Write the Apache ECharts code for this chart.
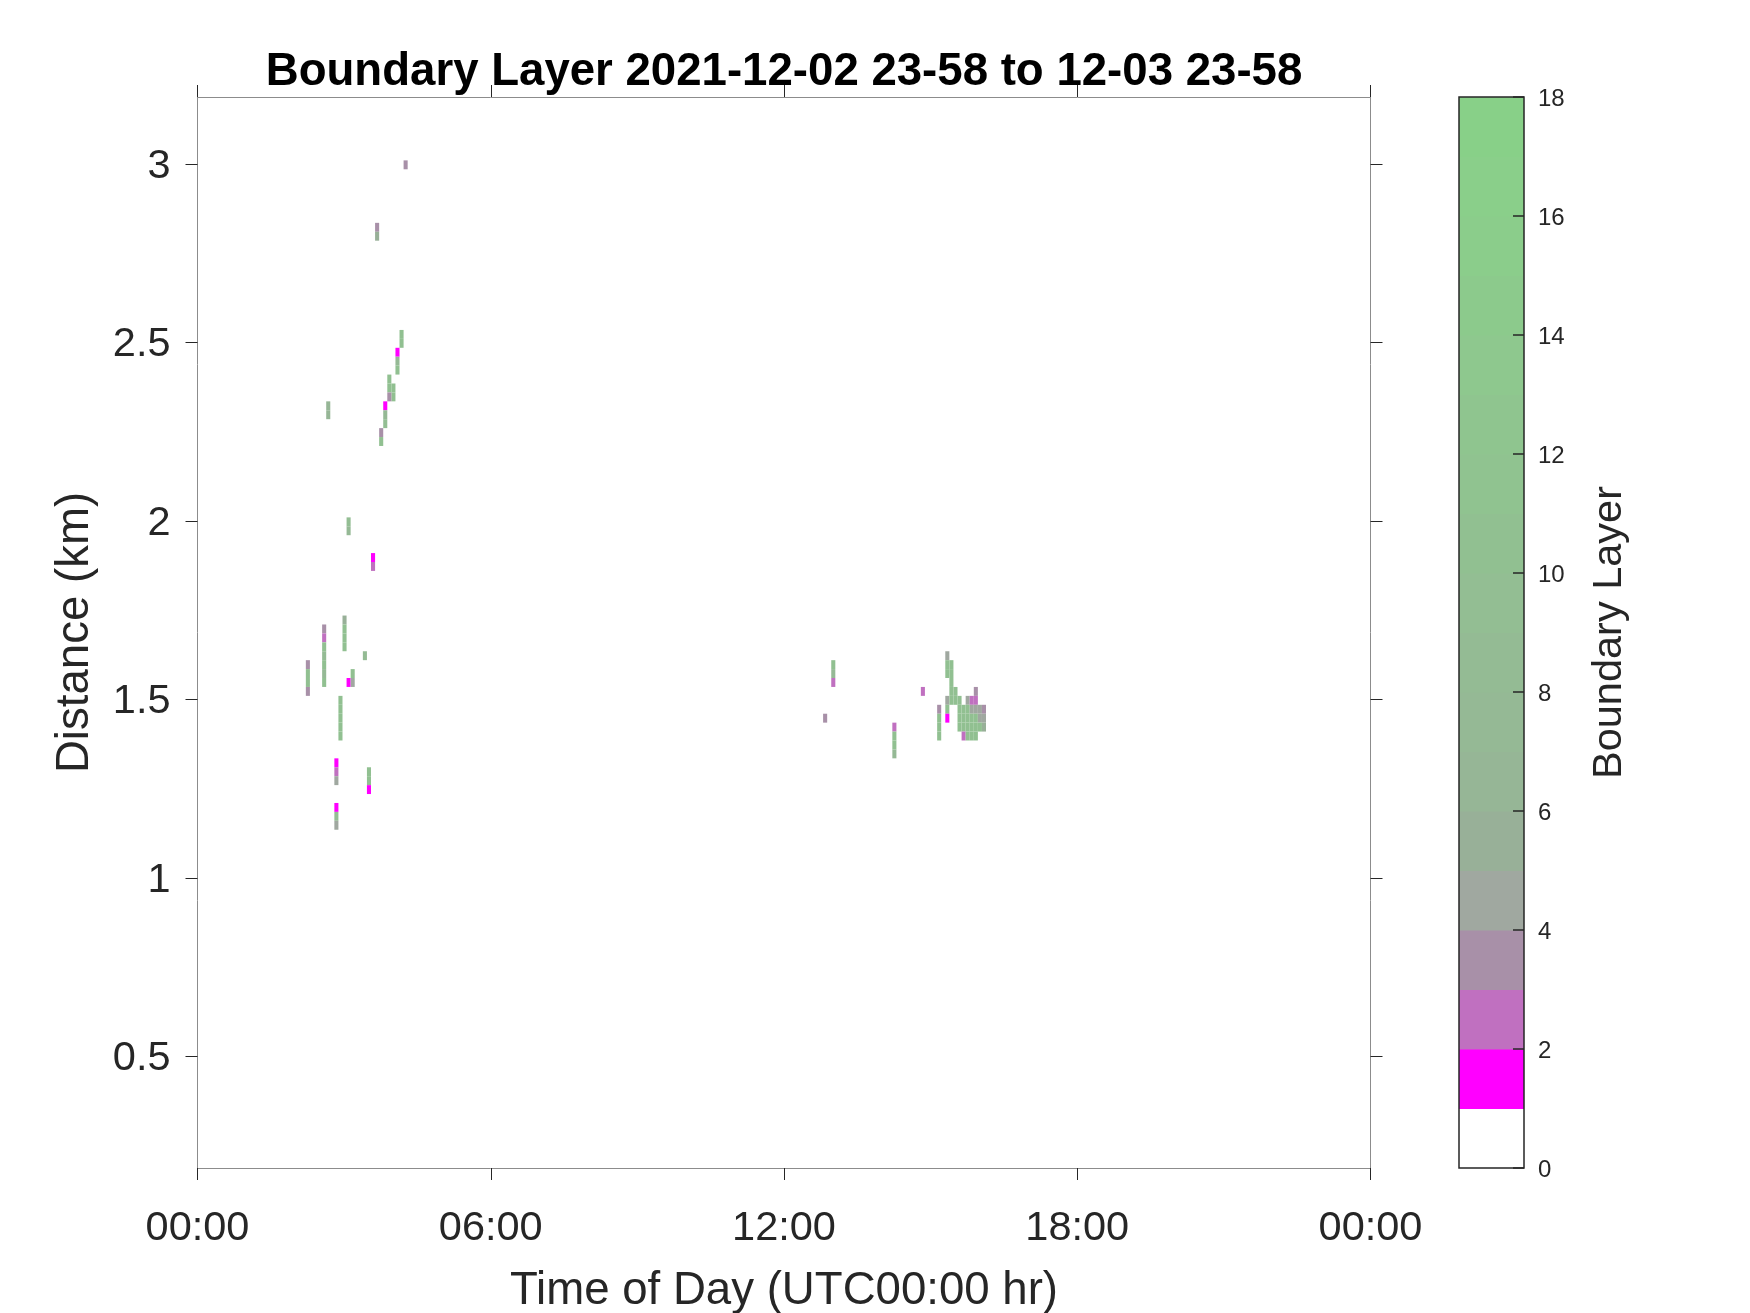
<!DOCTYPE html>
<html><head><meta charset="utf-8">
<script src="https://cdn.jsdelivr.net/npm/echarts@6/dist/echarts.min.js"></script>
<style>html,body{margin:0;padding:0;background:#fff}#c{width:1750px;height:1313px}</style>
</head><body><div id="c"></div>
<script>
// ---------------- data ----------------
const titleText = 'Boundary Layer 2021-12-02 23-58 to 12-03 23-58';
const xAxisTitle = 'Time of Day (UTC00:00 hr)';
const yAxisTitle = 'Distance (km)';
const colorbarTitle = 'Boundary Layer';

const xTickHours = [0, 6, 12, 18, 24];
const xTickLabels = ['00:00', '06:00', '12:00', '18:00', '00:00'];
const yTickValues = [0.5, 1, 1.5, 2, 2.5, 3];
const colorbarTicks = [0, 2, 4, 6, 8, 10, 12, 14, 16, 18];

// colour of each 1-unit level of the colour scale (0-1, 1-2, ... 17-18)
const levelColors = ['#ffffff', '#ff00ff', '#c070c0', '#a890a8', '#a0a8a0', '#98b098',
  '#96b696', '#95b995', '#94bb94', '#93be93', '#91c091', '#90c390',
  '#8fc58f', '#8ec88e', '#8cca8c', '#8bcd8b', '#8acf8a', '#88d088'];

// each profile column: start minute (of the 5-minute bin), gate bottoms (km) and values
const columnStartMin = [253, 218, 158, 248, 243, 238, 233, 228, 223, 183, 213, 133, 153, 178, 203, 188, 173, 168, 208,
  768, 778, 853, 888, 908, 918, 923, 928, 933, 938, 943, 948, 953, 958, 963];
const columnGateKm = [
  [2.985], [2.81, 2.785], [2.31, 2.285], [2.51, 2.485], [2.46, 2.435, 2.41], [2.36, 2.335],
  [2.385, 2.36, 2.335], [2.31, 2.285, 2.26], [2.235, 2.21], [1.985, 1.96, 1.535], [1.885, 1.86],
  [1.585, 1.56, 1.535, 1.51], [1.685, 1.66, 1.635, 1.61, 1.585, 1.56, 1.535], [1.71, 1.685, 1.66, 1.635],
  [1.61], [1.56, 1.535], [1.485, 1.46, 1.435, 1.41, 1.385], [1.31, 1.285, 1.26, 1.185, 1.16, 1.135],
  [1.285, 1.26, 1.235],
  [1.435], [1.585, 1.56, 1.535], [1.41, 1.385, 1.36, 1.335], [1.51], [1.46, 1.435, 1.41, 1.385],
  [1.61, 1.585, 1.56, 1.485, 1.46, 1.435], [1.585, 1.56, 1.535, 1.51, 1.485], [1.51, 1.485],
  [1.485, 1.46, 1.435, 1.41], [1.46, 1.435, 1.41, 1.385], [1.485, 1.46, 1.435, 1.41, 1.385],
  [1.485, 1.46, 1.435, 1.41, 1.385], [1.51, 1.485, 1.46, 1.435, 1.41, 1.385], [1.46, 1.435, 1.41],
  [1.46, 1.435, 1.41]];
const columnValues = [
  [3.5], [3.5, 5.5], [6.5, 6.5], [10, 10], [1.5, 7, 10], [10, 10],
  [10, 10, 3.5], [1.5, 7, 9], [3.5, 10], [9, 7, 1.5], [1.5, 2.5],
  [3.5, 10, 10, 3.5], [3.5, 2.5, 10, 8, 10, 7, 10], [5.5, 10, 10, 10],
  [8], [10, 4.5], [10, 10, 10, 10, 10], [1.5, 2.5, 4.5, 1.5, 9, 4.5],
  [10, 10, 1.5],
  [3.5], [10, 7, 2.5], [2.5, 10, 10, 7], [2.5], [3.5, 10, 10, 10],
  [4.5, 10, 10, 4.5, 10, 1.5], [10, 10, 10, 10, 10], [10, 10],
  [10, 10, 10, 10], [10, 10, 10, 2.5], [4.5, 10, 10, 10, 10],
  [2.5, 4.5, 10, 10, 10], [3.5, 2.5, 4.5, 10, 10, 10], [4.5, 4.5, 10],
  [3.5, 4.5, 5.5]];

// ---------------- build ----------------
const BIN_MIN = 5;       // time bin length (minutes)
const GATE_KM = 0.025;   // range gate (km)
const cells = [];
columnStartMin.forEach((m, i) => {
  columnGateKm[i].forEach((km, j) => cells.push([m / 60, km, columnValues[i][j]]));
});
function colorFor(v) {
  const idx = Math.max(0, Math.min(levelColors.length - 1, Math.floor(v)));
  return levelColors[idx];
}
const levels = levelColors.map((c, i) => [0, i]);

const FONT = "'Liberation Sans', Arial, Helvetica, sans-serif";
const TXT = '#262626';
const BOX = '#8c8c8c';
const TICK = '#262626';

const chart = echarts.init(document.getElementById('c'), null, {renderer: 'canvas'});
const axisBase = {
  type: 'value', splitLine: {show: false},
  axisLine: {show: true, onZero: false, lineStyle: {color: BOX, width: 1}},
  axisTick: {show: true, inside: false, length: 12, lineStyle: {color: TICK, width: 1}}
};
chart.setOption({
  animation: false,
  backgroundColor: '#ffffff',
  grid: [
    {left: 197.5, right: 379.5, top: 97, bottom: 145, containLabel: false, outerBoundsMode: 'none'},
    {left: 1459, width: 65, top: 97, bottom: 145, containLabel: false, outerBoundsMode: 'none'}
  ],
  xAxis: [
    Object.assign({}, axisBase, {
      gridIndex: 0, position: 'bottom', min: 0, max: 24, interval: 6,
      axisLabel: {show: true, fontSize: 41.5, fontFamily: FONT, color: TXT, margin: 39.5,
        showMinLabel: true, showMaxLabel: true,
        formatter: v => xTickLabels[xTickHours.indexOf(v)]},
      name: xAxisTitle, nameLocation: 'middle', nameGap: 100,
      nameTextStyle: {fontSize: 45.6, fontFamily: FONT, color: TXT}
    }),
    Object.assign({}, axisBase, {
      gridIndex: 0, position: 'top', min: 0, max: 24, interval: 6, axisLabel: {show: false}
    }),
    {type: 'value', gridIndex: 1, min: 0, max: 1, show: false}
  ],
  yAxis: [
    Object.assign({}, axisBase, {
      gridIndex: 0, position: 'left', min: 0.1875, max: 3.1875,
      axisTick: {show: true, length: 12, lineStyle: {color: TICK}, customValues: yTickValues},
      axisLabel: {show: true, fontSize: 41.5, fontFamily: FONT, color: TXT, margin: 27,
        verticalAlign: 'top', lineHeight: 5, customValues: yTickValues, formatter: v => String(v)},
      name: yAxisTitle, nameLocation: 'middle', nameGap: 99, nameRotate: 90,
      nameTextStyle: {fontSize: 45.6, fontFamily: FONT, color: TXT}
    }),
    Object.assign({}, axisBase, {
      gridIndex: 0, position: 'right', min: 0.1875, max: 3.1875,
      axisTick: {show: true, length: 12, lineStyle: {color: TICK}, customValues: yTickValues},
      axisLabel: {show: false}
    }),
    {
      type: 'value', gridIndex: 1, position: 'right', min: 0, max: 18, interval: 2, z: 10,
      splitLine: {show: false},
      axisLine: {show: false, onZero: false},
      axisTick: {show: true, inside: true, length: 11, lineStyle: {color: TICK, width: 1.5}},
      axisLabel: {show: true, fontSize: 24, fontFamily: FONT, color: TXT, margin: 14,
        verticalAlign: 'top', lineHeight: 4, customValues: colorbarTicks},
      name: colorbarTitle, nameLocation: 'middle', nameGap: 65, nameRotate: 90,
      nameTextStyle: {fontSize: 41.5, fontFamily: FONT, color: TXT}
    }
  ],
  graphic: [{
    type: 'text', x: 784, y: 72.5, z: 10,
    style: {text: titleText, font: 'bold 45.6px ' + FONT, fill: '#000', align: 'center', verticalAlign: 'middle'}
  }],
  series: [
    {
      type: 'custom', xAxisIndex: 0, yAxisIndex: 0, data: cells, clip: true,
      renderItem: (params, api) => {
        const t = api.value(0), d = api.value(1), v = api.value(2);
        const p0 = api.coord([t, d + GATE_KM]);
        const p1 = api.coord([t + BIN_MIN / 60, d]);
        return {type: 'rect', shape: {x: p0[0], y: p0[1], width: p1[0] - p0[0], height: p1[1] - p0[1]},
          style: {fill: colorFor(v)}};
      }
    },
    {
      type: 'custom', xAxisIndex: 2, yAxisIndex: 2, data: levels, z: 1,
      renderItem: (params, api) => {
        const lv = api.value(1);
        const p0 = api.coord([0, lv + 1]);
        const p1 = api.coord([1, lv]);
        return {type: 'rect', shape: {x: p0[0], y: p0[1], width: p1[0] - p0[0], height: p1[1] - p0[1] + 0.5},
          style: {fill: levelColors[lv]}};
      }
    },
    {
      type: 'custom', xAxisIndex: 2, yAxisIndex: 2, data: [[0, 0]], z: 5,
      renderItem: (params, api) => {
        const p0 = api.coord([0, 18]);
        const p1 = api.coord([1, 0]);
        return {type: 'rect', shape: {x: p0[0], y: p0[1], width: p1[0] - p0[0], height: p1[1] - p0[1]},
          style: {fill: 'none', stroke: '#262626', lineWidth: 1.5}};
      }
    }
  ]
});
</script>
</body></html>
